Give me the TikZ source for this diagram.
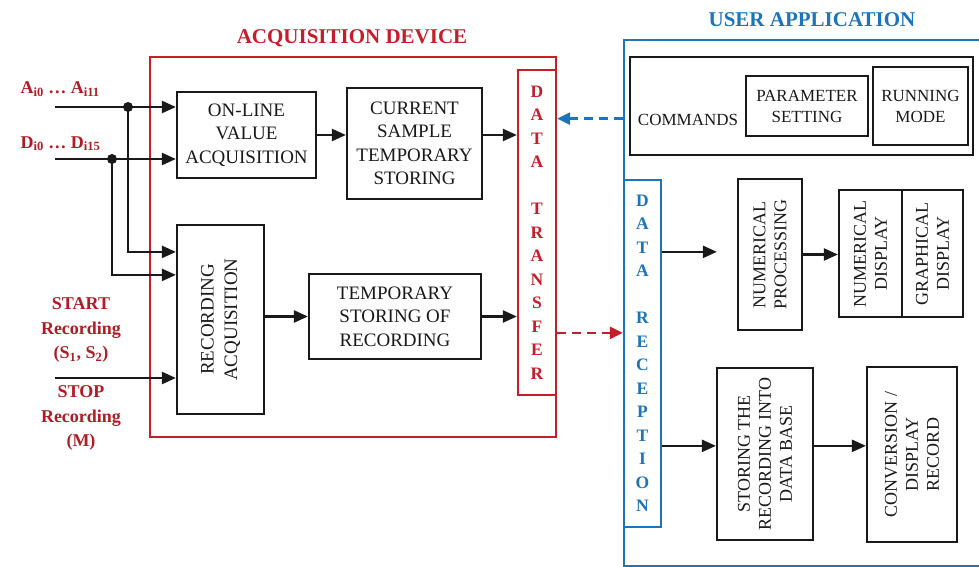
\documentclass[tikz,border=0pt]{standalone}
\usepackage{fontspec}
\setmainfont{Liberation Serif}
\usetikzlibrary{arrows.meta,calc}
\definecolor{devred}{RGB}{196,30,42}
\definecolor{lblred}{RGB}{176,28,36}
\definecolor{appblue}{RGB}{28,116,186}
\definecolor{ink}{RGB}{25,25,25}

\begin{document}
\begin{tikzpicture}[x=1pt,y=-1pt,
  box/.style={draw=ink,line width=2.2pt,inner sep=0pt,align=center,text=ink},
  lfont/.style={font=\fontsize{19}{23.5}\selectfont},
  rfont/.style={font=\fontsize{18}{21}\selectfont},
  cfont/.style={font=\fontsize{17}{21}\selectfont},
  vred/.style={font=\fontsize{17.5}{23.5}\selectfont\bfseries,text=devred},
  vblue/.style={font=\fontsize{17.5}{23.5}\selectfont\bfseries,text=appblue},
  sig/.style={font=\fontsize{18}{24.5}\selectfont\bfseries,text=lblred,align=center},
  ttl/.style={font=\fontsize{21}{24}\selectfont\bfseries},
  arr/.style={draw=ink,line width=2.3pt,-{Triangle[length=14pt,width=12pt]}},
  rdash/.style={draw=devred,line width=2.5pt,dash pattern=on 9pt off 6pt,-{Triangle[length=13pt,width=12pt]}},
  bdash/.style={draw=appblue,line width=2.5pt,dash pattern=on 9pt off 6pt,-{Triangle[length=13pt,width=12pt]}},
  jdot/.style={fill=ink,circle,inner sep=0pt,minimum size=10pt}
]
\useasboundingbox (0,0) rectangle (979,567);
\clip (0,0) rectangle (979,567);

% ---------- outer frames ----------
\node[draw=devred,line width=2.7pt,minimum width=406pt,minimum height=380pt] (acq) at (353,247) {};
\node[draw=appblue,line width=2.7pt,minimum width=366pt,minimum height=526pt] (usr) at (807,303) {};
\node[ttl,text=devred] (acqt) at (352,38) {ACQUISITION DEVICE};
\node[ttl,text=appblue] (usrt) at (812,20) {USER APPLICATION};

% ---------- acquisition device ----------
\node[box,lfont,minimum width=139pt,minimum height=86pt] (onl) at (246.5,135) {ON-LINE\\VALUE\\ACQUISITION};
\node[box,lfont,minimum width=135pt,minimum height=111pt] (cur) at (414.5,143.5) {CURRENT\\SAMPLE\\TEMPORARY\\STORING};
\node[box,minimum width=87pt,minimum height=189pt] (rec) at (220.5,319.5) {};
\node[lfont,rotate=90,align=center,text=ink] (rect) at (rec) {RECORDING\\ACQUISITION};
\node[box,lfont,minimum width=172pt,minimum height=85pt] (tmp) at (395,316.5) {TEMPORARY\\STORING OF\\RECORDING};
\node[draw=devred,line width=2.3pt,inner sep=0pt,align=center,vred,minimum width=38pt,minimum height=325pt] (dtr) at (537,232.5)
  {D\\A\\T\\A\\[23.5pt]T\\R\\A\\N\\S\\F\\E\\R};

% ---------- input signals ----------
\node[sig,anchor=base west] (asig) at (17,94) {A\textsubscript{i0} … A\textsubscript{i11}};
\node[sig,anchor=base west] (dsig) at (17,148) {D\textsubscript{i0} … D\textsubscript{i15}};
\node[sig] (start) at (81,330) {START\\Recording\\(S\textsubscript{1}, S\textsubscript{2})};
\node[sig] (stop) at (81,418) {STOP\\Recording\\(M)};

\coordinate (ain) at (55,107);
\coordinate (din) at (55,159);
\coordinate (sin) at (55,378);
\node[jdot] (ja) at (128,107) {};
\node[jdot] (jd) at (112,159) {};

\draw[arr] (ain) -- (ain -| onl.west);
\draw[arr] (din) -- (din -| onl.west);
\draw[arr] (ja.center) |- ([yshift=-28pt]rec.north west);
\draw[arr] (jd.center) |- ([yshift=-51pt]rec.north west);
\draw[arr] (sin) -- (sin -| rec.west);

\draw[arr] (onl.east) -- (onl.east -| cur.west);
\draw[arr] (onl.east -| cur.east) -- (onl.east -| dtr.west);
\draw[arr] (tmp.west -| rec.east) -- (tmp.west);
\draw[arr] (tmp.east) -- (tmp.east -| dtr.west);

% ---------- user application ----------
\node[box,minimum width=343pt,minimum height=98pt] (cmd) at (801.5,106) {};
\node[cfont,text=ink] (cmdt) at (688,120) {COMMANDS};
\node[box,cfont,minimum width=122pt,minimum height=60pt] (par) at (807,106) {PARAMETER\\SETTING};
\node[box,cfont,minimum width=95pt,minimum height=78pt] (run) at (920.5,106) {RUNNING\\MODE};

\node[draw=appblue,line width=2.3pt,inner sep=0pt,align=center,vblue,minimum width=37pt,minimum height=347pt] (drc) at (642.5,353.5)
  {D\\A\\T\\A\\[23.5pt]R\\E\\C\\E\\P\\T\\I\\O\\N};

\node[box,minimum width=64pt,minimum height=151pt] (npr) at (770,254.5) {};
\node[rfont,rotate=90,align=center,text=ink] (nprt) at (npr) {NUMERICAL\\PROCESSING};
\node[box,minimum width=63pt,minimum height=127pt] (ndp) at (870.5,253.5) {};
\node[rfont,rotate=90,align=center,text=ink] (ndpt) at (ndp) {NUMERICAL\\DISPLAY};
\node[box,minimum width=61pt,minimum height=127pt] (gdp) at (932.5,253.5) {};
\node[rfont,rotate=90,align=center,text=ink] (gdpt) at (gdp) {GRAPHICAL\\DISPLAY};
\node[box,minimum width=96pt,minimum height=172pt] (sto) at (765,454) {};
\node[rfont,rotate=90,align=center,text=ink] (stot) at (sto) {STORING THE\\RECORDING INTO\\DATA BASE};
\node[box,minimum width=90pt,minimum height=175pt] (cnv) at (912,454.5) {};
\node[rfont,rotate=90,align=center,text=ink] (cnvt) at (cnv) {CONVERSION /\\DISPLAY\\RECORD};

% ---------- links ----------
\draw[bdash] ([yshift=-80pt]usr.north west) -- ([yshift=-80pt]usr.north west -| dtr.east);
\draw[rdash] ([yshift=-264pt]dtr.north east) -- ([yshift=-264pt]dtr.north east -| drc.west);

\draw[arr,shorten >=20pt] ([yshift=-73pt]drc.north east) -- ([yshift=-73pt]drc.north east -| npr.west);
\draw[arr] (npr.east) -- (npr.east -| ndp.west);
\draw[arr] ([yshift=-267pt]drc.north east) -- ([yshift=-267pt]drc.north east -| sto.west);
\draw[arr] ([yshift=-267pt]drc.north east -| sto.east) -- ([yshift=-267pt]drc.north east -| cnv.west);
\end{tikzpicture}
\end{document}
